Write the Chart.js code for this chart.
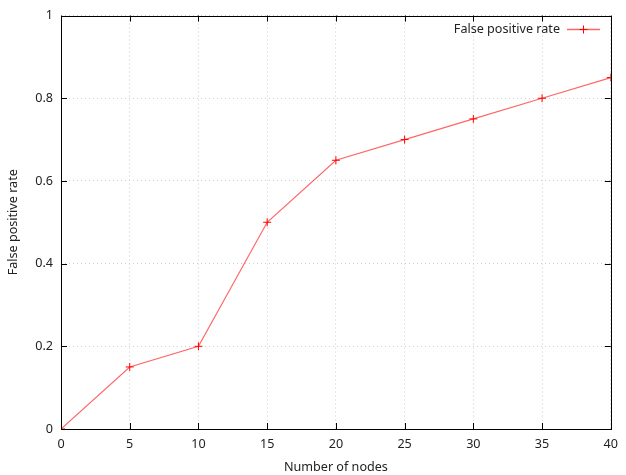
<!DOCTYPE html>
<html>
<head>
<meta charset="utf-8">
<script src="https://cdn.jsdelivr.net/npm/chart.js@4"></script>
<style>
  html, body { margin: 0; padding: 0; background: #fff; }
  #wrap { width: 626px; height: 475px; }
</style>
</head>
<body>
<div id="wrap"><canvas id="chart" width="626" height="475"></canvas></div>
<script>
const nodes = [0, 5, 10, 15, 20, 25, 30, 35, 40];
const falsePositive = [0, 0.15, 0.2, 0.5, 0.65, 0.7, 0.75, 0.8, 0.85];
const xTicks = [0, 5, 10, 15, 20, 25, 30, 35, 40];
const yTicks = [0, 0.2, 0.4, 0.6, 0.8, 1];

const fontFamily = '"Noto Sans", "DejaVu Sans", sans-serif';
const fontSize = 12.6;
const textColor = '#222';
const lineColor = 'rgba(255,0,0,0.6)';

// gnuplot style: box border, inward ticks on all four sides, legend top right
const gnuplotFrame = {
    id: 'gnuplotFrame',
    afterDraw(chart) {
        const ctx = chart.ctx;
        const a = chart.chartArea;
        const xs = chart.scales.x, ys = chart.scales.y;
        ctx.save();
        ctx.setLineDash([]);
        ctx.strokeStyle = '#000';
        ctx.lineWidth = 1;
        ctx.strokeRect(Math.round(a.left) + 0.5, Math.round(a.top) + 0.5,
            Math.round(a.right - a.left), Math.round(a.bottom - a.top));
        ctx.beginPath();
        xTicks.forEach(v => {
            const px = Math.round(xs.getPixelForValue(v)) + 0.5;
            ctx.moveTo(px, a.bottom); ctx.lineTo(px, a.bottom - 6);
            ctx.moveTo(px, a.top); ctx.lineTo(px, a.top + 6);
        });
        yTicks.forEach(v => {
            const py = Math.round(ys.getPixelForValue(v)) + 0.5;
            ctx.moveTo(a.left, py); ctx.lineTo(a.left + 6, py);
            ctx.moveTo(a.right, py); ctx.lineTo(a.right - 6, py);
        });
        ctx.stroke();

        // legend
        const ly = 29.5;
        ctx.font = fontSize + 'px ' + fontFamily;
        ctx.fillStyle = textColor;
        ctx.textAlign = 'right';
        ctx.textBaseline = 'middle';
        ctx.fillText('False positive rate', 560, ly);
        ctx.lineWidth = 1.3;
        ctx.strokeStyle = lineColor;
        ctx.beginPath();
        ctx.moveTo(567, ly); ctx.lineTo(600, ly);
        ctx.stroke();
        ctx.lineWidth = 1;
        ctx.strokeStyle = 'rgb(255,0,0)';
        ctx.beginPath();
        ctx.moveTo(583.5, ly - 4); ctx.lineTo(583.5, ly + 4);
        ctx.moveTo(579.5, ly); ctx.lineTo(587.5, ly);
        ctx.stroke();
        ctx.restore();
    }
};

new Chart(document.getElementById('chart'), {
    type: 'line',
    data: {
        datasets: [{
            label: 'False positive rate',
            data: nodes.map((n, i) => ({ x: n, y: falsePositive[i] })),
            borderColor: lineColor,
            borderWidth: 1.2,
            pointStyle: 'cross',
            pointRadius: 4,
            pointBorderColor: '#f00',
            pointBorderWidth: 1,
            pointHoverRadius: 4,
            tension: 0,
            fill: false
        }]
    },
    options: {
        responsive: false,
        animation: false,
        layout: { padding: { top: 15, right: 12, left: 0, bottom: 0 } },
        plugins: { legend: { display: false }, tooltip: { enabled: false } },
        scales: {
            x: {
                type: 'linear',
                min: 0, max: 40,
                afterFit(s) { s.height = 46; },
                afterBuildTicks(s) { s.ticks = xTicks.map(v => ({ value: v })); },
                grid: { color: '#cfcfcf', drawTicks: false },
                border: { display: false, dash: [1, 3] },
                ticks: { color: textColor, padding: 8, font: { family: fontFamily, size: fontSize } },
                title: {
                    display: true, text: 'Number of nodes', color: textColor,
                    padding: { top: 6, bottom: 0 },
                    font: { family: fontFamily, size: fontSize }
                }
            },
            y: {
                type: 'linear',
                min: 0, max: 1,
                afterFit(s) { s.width = 61; },
                afterBuildTicks(s) { s.ticks = yTicks.map(v => ({ value: v })); },
                grid: { color: '#cfcfcf', drawTicks: false },
                border: { display: false, dash: [1, 3] },
                ticks: {
                    color: textColor, padding: 8,
                    font: { family: fontFamily, size: fontSize },
                    callback: v => String(Math.round(v * 10) / 10)
                },
                title: {
                    display: true, text: 'False positive rate', color: textColor,
                    padding: { top: 6, bottom: 0 },
                    font: { family: fontFamily, size: fontSize }
                }
            }
        }
    },
    plugins: [gnuplotFrame]
});
</script>
</body>
</html>
